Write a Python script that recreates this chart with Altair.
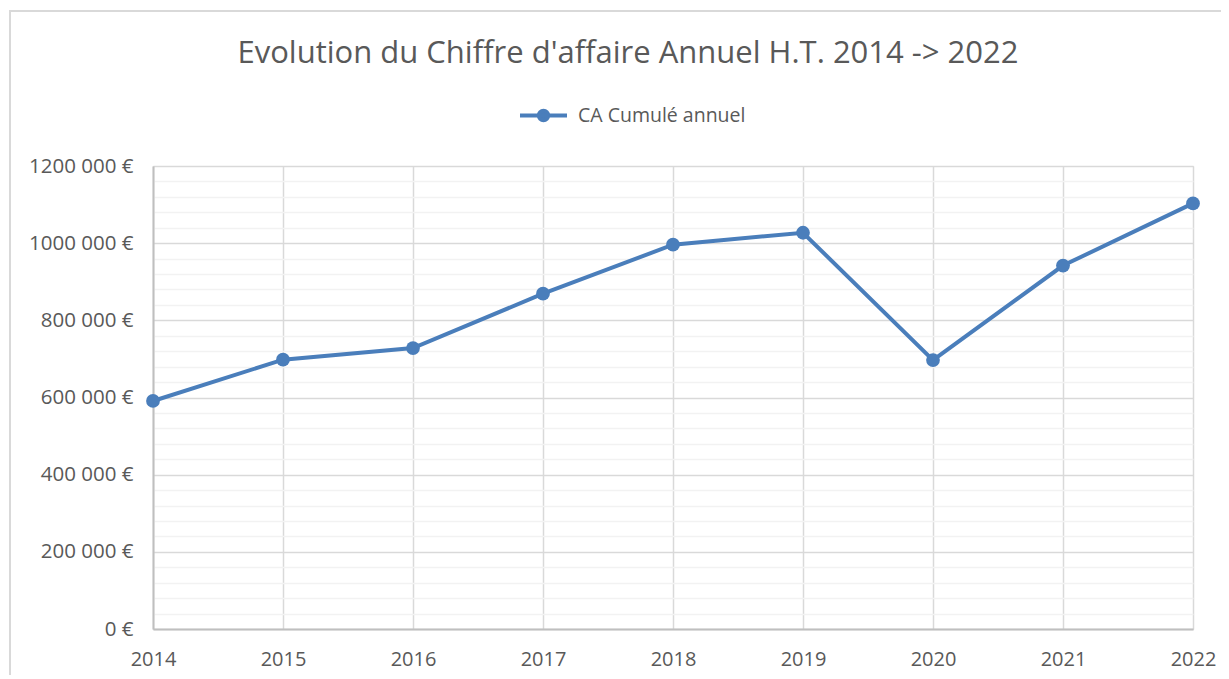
import altair as alt
import pandas as pd

# ---- data ----
years = [2014, 2015, 2016, 2017, 2018, 2019, 2020, 2021, 2022]
ca_values = [591000, 698000, 728000, 869000, 996000, 1027000, 697000, 942000, 1103000]
series_name = "CA Cumulé annuel"
major_ticks = [0, 200000, 400000, 600000, 800000, 1000000, 1200000]
minor_ticks = [40000, 80000, 120000, 160000, 240000, 280000, 320000, 360000,
               440000, 480000, 520000, 560000, 640000, 680000, 720000, 760000,
               840000, 880000, 920000, 960000, 1040000, 1080000, 1120000, 1160000]
title_text = "Evolution du Chiffre d'affaire Annuel H.T. 2014 -> 2022"

df = pd.DataFrame({"year": years, "ca": ca_values, "serie": [series_name] * len(years)})

FONT = "Open Sans"
GREY = "#595959"
BLUE = "#4A7EBB"
GRID = "#d9d9d9"
MINOR = "#f2f2f2"
AXIS = "#bfbfbf"

xscale = alt.Scale(domain=[2014, 2022], nice=False, zero=False)
yscale = alt.Scale(domain=[0, 1200000], nice=False)

x_axis = alt.Axis(values=years, format="d", grid=True, gridColor=GRID, gridWidth=1.5,
                  ticks=False, domainColor=AXIS, domainWidth=2, labelFlush=False,
                  labelColor=GREY, labelFontSize=20, labelFont=FONT,
                  labelPadding=20, title=None)

legend_symbol = "M-1,0L1,0M-0.2,0A0.2,0.2,0,1,1,0.2,0A0.2,0.2,0,1,1,-0.2,0Z"

main = alt.Chart(df).mark_line(
    strokeWidth=4,
    point=alt.OverlayMarkDef(size=190, filled=True, opacity=1),
).encode(
    x=alt.X("year:Q", scale=xscale, axis=x_axis),
    y=alt.Y("ca:Q", scale=yscale,
            axis=alt.Axis(values=major_ticks,
                          labelExpr="datum.value == 0 ? '0 €' : floor(datum.value / 1000) + ' 000 €'",
                          grid=True, gridColor=GRID, gridWidth=1.5, labelFlush=False,
                          ticks=False, domainColor=AXIS, domainWidth=2,
                          labelColor=GREY, labelFontSize=20.5, labelFont=FONT,
                          labelPadding=20, title=None, orient="left")),
    color=alt.Color("serie:N", scale=alt.Scale(range=[BLUE]),
                    legend=alt.Legend(title=None, orient="none", legendX=365, legendY=-76,
                                      symbolType=legend_symbol, symbolSize=2209,
                                      symbolStrokeWidth=4, symbolFillColor=BLUE,
                                      symbolStrokeColor=BLUE,
                                      labelFont=FONT, labelFontSize=19.5, labelColor=GREY,
                                      labelOffset=9, labelLimit=400, padding=0)),
)

minor = alt.Chart(df).mark_line(opacity=0).encode(
    x=alt.X("year:Q", scale=xscale, axis=x_axis),
    y=alt.Y("ca:Q", scale=yscale,
            axis=alt.Axis(values=minor_ticks, grid=True, gridColor=MINOR, gridWidth=1.5,
                          labels=False, ticks=False, domain=False, title=None,
                          orient="right")),
)

frame = alt.Chart(pd.DataFrame({"k": [0]})).mark_rect(
    fill=None, stroke=GRID, strokeWidth=2
).encode(
    x=alt.value(-143), x2=alt.value(1400), y=alt.value(-155), y2=alt.value(900)
)

chart = alt.layer(frame, main, minor).resolve_axis(y="independent").properties(
    width=1040,
    height=463,
    autosize=alt.AutoSizeParams(type="none"),
    padding={"left": 145, "top": 158, "right": 28, "bottom": 46},
    title=alt.TitleParams(title_text, font=FONT, fontSize=31, fontWeight="normal",
                          color=GREY, anchor="middle", dx=-45, offset=-84,
                          baseline="alphabetic"),
).configure_view(stroke=None).configure(background="white")

chart.save("out.html", embed_options={"renderer": "svg", "actions": False})
